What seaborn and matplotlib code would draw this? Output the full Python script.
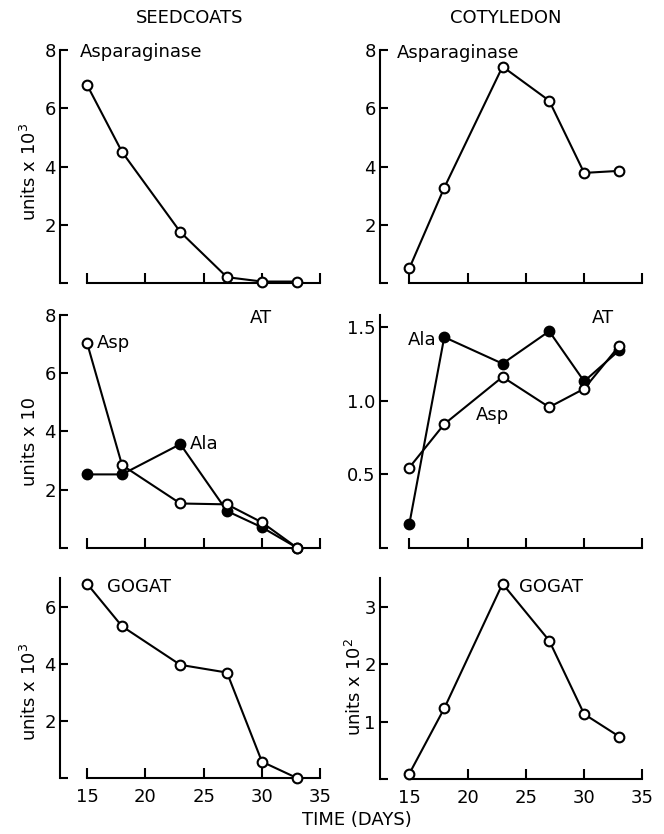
import matplotlib
matplotlib.use("Agg")
import matplotlib.pyplot as plt
import seaborn as sns
import pandas as pd

# ---- data ----
days = [15, 18, 23, 27, 30, 33]
seed_asparaginase = [6.8, 4.5, 1.75, 0.2, 0.05, 0.05]
cot_asparaginase = [0.5, 3.27, 7.43, 6.26, 3.78, 3.85]
seed_at_asp = [7.04, 2.84, 1.52, 1.49, 0.87, 0.0]
seed_at_ala = [2.52, 2.52, 3.56, 1.26, 0.7, 0.0]
cot_at_ala = [0.16, 1.43, 1.25, 1.47, 1.13, 1.34]
cot_at_asp = [0.545, 0.84, 1.16, 0.955, 1.08, 1.37]
seed_gogat = [6.8, 5.31, 3.96, 3.69, 0.57, 0.0]
cot_gogat = [0.09, 1.23, 3.4, 2.41, 1.13, 0.74]
x_ticks = [15, 20, 25, 30, 35]

sns.set_style("ticks")
plt.rcParams['font.family'] = ['DejaVu Sans']
for k in ('text.color', 'axes.labelcolor', 'xtick.color', 'ytick.color',
          'axes.edgecolor', 'xtick.labelcolor', 'ytick.labelcolor'):
    plt.rcParams[k] = 'black'

W, H = 664, 834
fig = plt.figure(figsize=(W / 100, H / 100), dpi=100)

def make_ax(left_px, right_px, top_px, bottom_px):
    return fig.add_axes([left_px / W, (H - bottom_px) / H,
                         (right_px - left_px) / W, (bottom_px - top_px) / H])

# column geometry
L_LEFT, L_XLIM = 60, (12.68, 35.3)
R_LEFT, R_XLIM = 380, (12.49, 35.3)
PX_PER_DAY = 11.66

def col_right(left, xlim):
    return left + (xlim[1] - xlim[0]) * PX_PER_DAY

def line(ax, y, filled=False, z=3):
    df = pd.DataFrame({"day": days, "val": y})
    sns.lineplot(data=df, x="day", y="val", ax=ax, color="black",
                 marker="o", markersize=7,
                 markerfacecolor="black" if filled else "white",
                 markeredgecolor="black", markeredgewidth=1.5,
                 linewidth=1.5, zorder=z, clip_on=False)

def style(ax, xlim, ylim, yticks, ytlabels, top, show_x):
    ax.set_xlim(*xlim)
    ax.set_ylim(*ylim)
    sns.despine(ax=ax)
    ax.spines['bottom'].set_bounds(15, 35)
    ax.spines['left'].set_bounds(0, top)
    for s in ('bottom', 'left'):
        ax.spines[s].set_linewidth(1.5)
        ax.spines[s].set_color('black')
    ax.set_xticks(x_ticks)
    ax.set_xticklabels([str(t) for t in x_ticks] if show_x else [])
    ax.set_yticks(yticks)
    ax.set_yticklabels(ytlabels)
    ax.tick_params(axis='x', direction='in', length=7, width=1.5,
                   pad=7, labelsize=13, colors='black')
    ax.tick_params(axis='y', direction='in', length=6, width=1.5,
                   pad=3, labelsize=13, colors='black')
    ax.set_xlabel("")
    ax.set_ylabel("")

def ylabel(ax, text, xpx, ypx, left_px, right_px, top_px, bottom_px):
    ax.set_ylabel(text, fontsize=13, va='center', ha='center', color='black')
    ax.yaxis.set_label_coords((xpx - left_px) / (right_px - left_px),
                              (bottom_px - ypx) / (bottom_px - top_px))

TS = 13

# ---- row 1 ----
lr, rr = col_right(L_LEFT, L_XLIM), col_right(R_LEFT, R_XLIM)
ax1 = make_ax(L_LEFT, lr, 50, 283)
line(ax1, seed_asparaginase)
style(ax1, L_XLIM, (0, 8), [0, 2, 4, 6, 8], ["", "2", "4", "6", "8"], 8, False)
ax1.text(14.4, 7.93, "Asparaginase", fontsize=TS, va='center', ha='left')
ylabel(ax1, "units x 10$^{3}$", 30, 172, L_LEFT, lr, 50, 283)

ax2 = make_ax(R_LEFT, rr, 50, 283)
line(ax2, cot_asparaginase)
style(ax2, R_XLIM, (0, 8), [0, 2, 4, 6, 8], ["", "2", "4", "6", "8"], 8, False)
ax2.text(13.95, 7.9, "Asparaginase", fontsize=TS, va='center', ha='left')

# ---- row 2 ----
ax3 = make_ax(L_LEFT, lr, 315, 547.7)
line(ax3, seed_at_ala, filled=True, z=3)
line(ax3, seed_at_asp, filled=False, z=4)
style(ax3, L_XLIM, (0, 8), [0, 2, 4, 6, 8], ["", "2", "4", "6", "8"], 8, False)
ax3.text(29.0, 7.9, "AT", fontsize=TS, va='center', ha='left')
ax3.text(15.86, 7.03, "Asp", fontsize=TS, va='center', ha='left')
ax3.text(23.84, 3.56, "Ala", fontsize=TS, va='center', ha='left')
ylabel(ax3, "units x 10", 30, 442, L_LEFT, lr, 315, 547.7)

ax4 = make_ax(R_LEFT, rr, 315, 548)
line(ax4, cot_at_ala, filled=True, z=3)
line(ax4, cot_at_asp, filled=False, z=4)
style(ax4, R_XLIM, (0, 1.58), [0, 0.5, 1.0, 1.5], ["", "0.5", "1.0", "1.5"], 1.58, False)
ax4.text(14.89, 1.41, "Ala", fontsize=TS, va='center', ha='left')
ax4.text(20.7, 0.905, "Asp", fontsize=TS, va='center', ha='left')
ax4.text(30.66, 1.56, "AT", fontsize=TS, va='center', ha='left')

# ---- row 3 ----
ax5 = make_ax(L_LEFT, lr, 578, 778)
line(ax5, seed_gogat)
style(ax5, L_XLIM, (0, 7.0), [0, 2, 4, 6], ["", "2", "4", "6"], 7.0, True)
ax5.text(16.72, 6.67, "GOGAT", fontsize=TS, va='center', ha='left')
ylabel(ax5, "units x 10$^{3}$", 30, 692, L_LEFT, lr, 578, 778)

ax6 = make_ax(R_LEFT, rr, 578, 779)
line(ax6, cot_gogat)
style(ax6, R_XLIM, (0, 3.5), [0, 1, 2, 3], ["", "1", "2", "3"], 3.5, True)
ax6.text(24.4, 3.34, "GOGAT", fontsize=TS, va='center', ha='left')
ylabel(ax6, "units x 10$^{2}$", 355, 687, R_LEFT, rr, 578, 779)

# ---- titles ----
fig.text(190 / W, 1 - 18 / H, "SEEDCOATS", fontsize=13, ha='center', va='center')
fig.text(506 / W, 1 - 18 / H, "COTYLEDON", fontsize=13, ha='center', va='center')
fig.text(357 / W, 1 - 820 / H, "TIME (DAYS)", fontsize=13, ha='center', va='center')

fig.savefig("out.png", dpi=100)
